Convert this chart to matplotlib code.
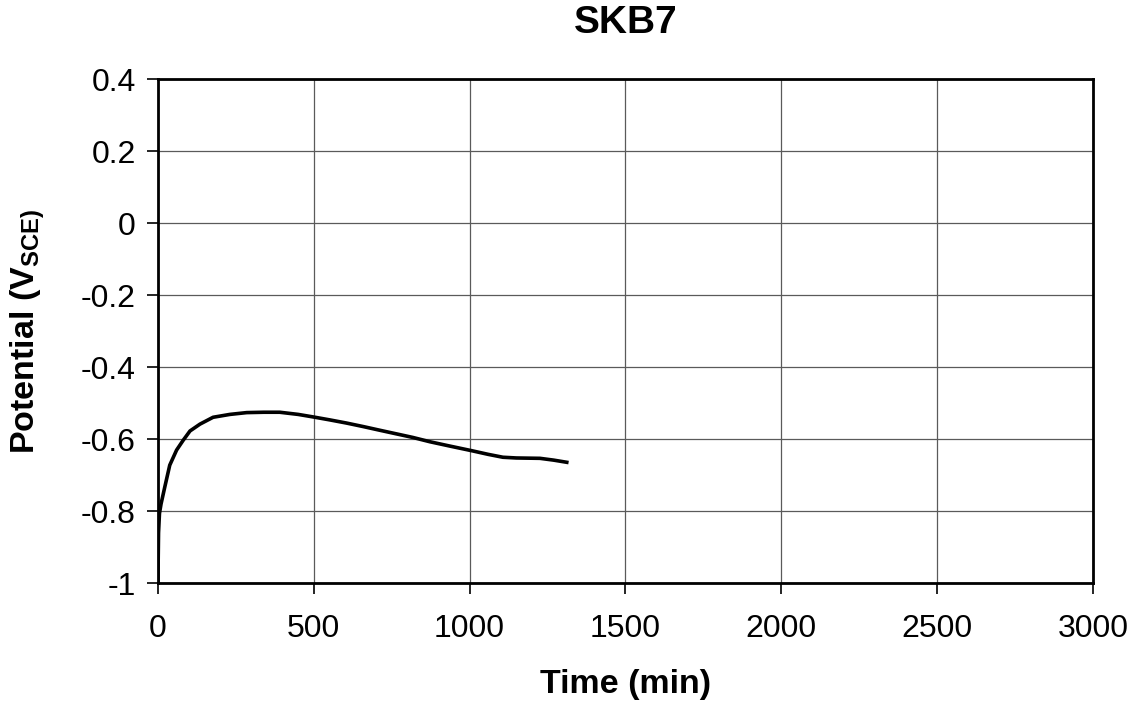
import matplotlib.pyplot as plt
import numpy as np

plt.rcParams['font.family'] = ['Liberation Sans', 'DejaVu Sans']
plt.rcParams['mathtext.default'] = 'regular'

# values
time_min = [0, 1, 2, 5, 10, 22, 38, 60, 81, 103, 135, 177, 231, 285, 340, 391,
            450, 498, 550, 605, 660, 712, 765, 818, 873, 937, 1008, 1060, 1107,
            1150, 1226, 1270, 1312]
potential = [-1.0, -0.93, -0.86, -0.806, -0.78, -0.733, -0.672, -0.63, -0.603,
             -0.577, -0.558, -0.539, -0.531, -0.526, -0.525, -0.525, -0.531,
             -0.538, -0.546, -0.555, -0.565, -0.575, -0.585, -0.595, -0.607,
             -0.619, -0.632, -0.642, -0.650, -0.652, -0.653, -0.658, -0.664]

x_ticks = [0, 500, 1000, 1500, 2000, 2500, 3000]
y_ticks = [-1, -0.8, -0.6, -0.4, -0.2, 0, 0.2, 0.4]
y_labels = ['-1', '-0.8', '-0.6', '-0.4', '-0.2', '0', '0.2', '0.4']

fig = plt.figure(figsize=(11.36, 7.07), dpi=100)
ax = fig.add_axes([0.139, 0.175, 0.823, 0.713])

ax.plot(time_min, potential, color='black', linewidth=2.6)

ax.set_xlim(0, 3000)
ax.set_ylim(-1, 0.4)
ax.set_xticks(x_ticks)
ax.set_yticks(y_ticks)
ax.set_yticklabels(y_labels)
ax.grid(True, color='#5a5a5a', linewidth=0.9)
ax.set_axisbelow(True)

for s in ax.spines.values():
    s.set_linewidth(2.0)
    s.set_color('black')

ax.tick_params(direction='out', length=8, width=1.2, labelsize=23)
ax.tick_params(axis='x', pad=14)
ax.tick_params(axis='y', pad=8)

ax.set_title('SKB7', fontsize=28, fontweight='bold', pad=33)
ax.set_xlabel('Time (min)', fontsize=24.5, fontweight='bold', labelpad=18)
ax.set_ylabel('Potential (V$_{SCE)}$', fontsize=24.5, fontweight='bold', labelpad=24)

fig.savefig('out.png', dpi=100, facecolor='white')
